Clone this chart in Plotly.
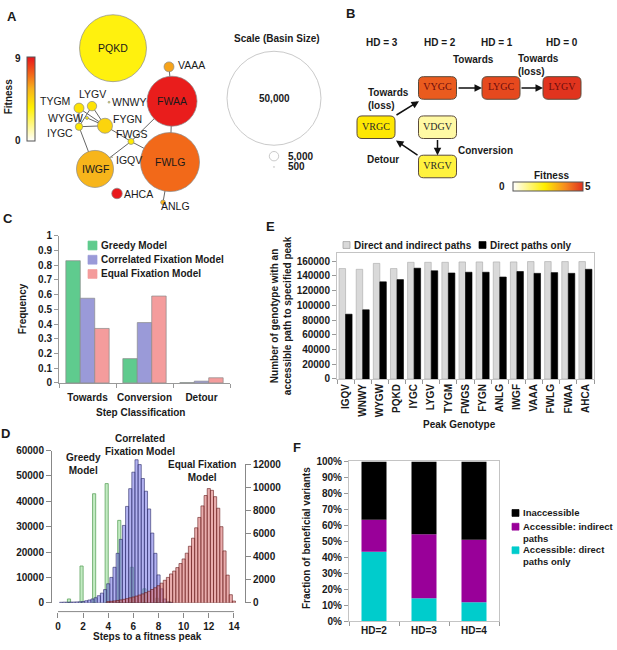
import plotly.graph_objects as go
from plotly.colors import sample_colorscale

W, H = 617, 650
def px(x): return x / W
def py(y): return 1 - y / H

FONT = "Liberation Sans, Arial, sans-serif"
TXT = "#1a1a1a"

# ---------------- Panel A data (fitness network) ----------------
node_names = ["PQKD", "VAAA", "FWAA", "FWLG", "IWGF", "AHCA", "ANLG", "TYGM",
              "LYGV", "WYGW", "IYGC", "FYGN", "WNWY", "FWGS", "IGQV"]
node_fitness = [3.4, 5.9, 8.8, 7.1, 5.5, 8.9, 5.4, 4.0, 4.0, 3.6, 3.8, 4.5, 2.5, 3.8, 3.5]
node_basin = [35600, 5300, 26600, 31400, 19700, 5600, 2500, 5300,
              5000, 1600, 3900, 8000, 1000, 3200, 500]
node_x = [113, 169, 172, 170, 95, 117, 163, 79, 92, 87, 79, 105, 109, 131, 112]
node_y = [43, 62, 97, 159, 166, 191, 200, 104, 102, 114, 123, 122, 98, 138, 154]
edges = [("VAAA", "FWAA"), ("FWAA", "FWLG"), ("FWAA", "FWGS"), ("FWGS", "FWLG"),
         ("FWGS", "IWGF"), ("FYGN", "FWGS"), ("IYGC", "IWGF"), ("FWLG", "ANLG"),
         ("TYGM", "FYGN"), ("LYGV", "FYGN"), ("IYGC", "FYGN"), ("LYGV", "IYGC"),
         ("TYGM", "IYGC"), ("WYGW", "FYGN")]
scale_basin = [50000, 5000, 500]
scale_labels = ["50,000", "5,000", "500"]

# ---------------- Panel B data ----------------
b_names = ["VYGC", "LYGC", "LYGV", "VRGC", "VDGV", "VRGV"]
b_fitness = [4.4, 4.65, 4.95, 2.35, 0.8, 1.7]
hd_labels = ["HD = 3", "HD = 2", "HD = 1", "HD = 0"]

# ---------------- Panel C data ----------------
step_classes = ["Towards", "Conversion", "Detour"]
greedy_freq = [0.83, 0.165, 0.002]
correlated_freq = [0.575, 0.41, 0.012]
equal_freq = [0.37, 0.59, 0.035]

# ---------------- Panel D data ----------------
greedy_steps = [1, 2, 3, 4, 5, 6, 7, 8, 9]
greedy_counts = [1500, 14500, 43000, 47000, 32500, 14000, 5500, 1800, 400]
corr_steps = [0.25, 0.5, 0.75, 1.0, 1.25, 1.5, 1.75, 2.0, 2.25, 2.5, 2.75, 3.0, 3.25,
              3.5, 3.75, 4.0, 4.25, 4.5, 4.75, 5.0, 5.25, 5.5, 5.75, 6.0, 6.25, 6.5,
              6.75, 7.0, 7.25, 7.5, 7.75, 8.0, 8.25, 8.5, 8.75, 9.0]
corr_counts = [200, 250, 250, 300, 300, 350, 400, 500, 800, 1100, 1500, 2000, 2800,
               3800, 5200, 7500, 10000, 14000, 19500, 25000, 30500, 38000, 45000,
               51500, 56400, 54500, 49000, 44000, 37000, 27500, 19500, 11000, 5500,
               1500, 400, 150]
equal_steps = [4.0, 4.25, 4.5, 4.75, 5.0, 5.25, 5.5, 5.75, 6.0, 6.25, 6.5, 6.75, 7.0,
               7.25, 7.5, 7.75, 8.0, 8.25, 8.5, 8.75, 9.0, 9.25, 9.5, 9.75, 10.0,
               10.25, 10.5, 10.75, 11.0, 11.25, 11.5, 11.75, 12.0, 12.25, 12.5,
               12.75, 13.0, 13.25, 13.5, 13.75, 14.0]
equal_counts = [100, 130, 160, 200, 250, 300, 360, 430, 500, 580, 670, 770, 880, 1000,
                1150, 1300, 1480, 1700, 1950, 2200, 2500, 2750, 3050, 3400, 3800,
                4300, 4900, 5600, 6500, 7400, 8400, 9300, 9900, 9750, 9200, 8200,
                6600, 4500, 2400, 700, 150]

# ---------------- Panel E data ----------------
peaks = ["IGQV", "WNWY", "WYGW", "PQKD", "IYGC", "LYGV", "TYGM", "FWGS", "FYGN",
         "ANLG", "IWGF", "VAAA", "FWLG", "FWAA", "AHCA"]
both_paths = [150000, 149000, 157000, 150000, 158500, 158500, 158500, 159000,
              159000, 159000, 159000, 159500, 159500, 159500, 159500]
direct_only = [88000, 94000, 132000, 135000, 150500, 147000, 144000, 145000,
               145000, 138500, 146000, 143500, 144500, 143500, 149000]

# ---------------- Panel F data ----------------
hd_groups = ["HD=2", "HD=3", "HD=4"]
acc_direct = [43.5, 14.5, 12.0]
acc_indirect = [20.0, 40.0, 39.0]
inaccessible = [36.5, 45.5, 49.0]

# ---------------- colours ----------------
CS_A = [[0, "#FFFFFF"], [0.4, "#FFF000"], [0.62, "#F7B21C"], [0.8, "#F26419"], [1, "#E8141C"]]
CS_B = [[0, "#FFFFFF"], [0.45, "#FFEE00"], [0.75, "#F58A1F"], [1, "#E0301E"]]
C_GREEN, C_PURP, C_PINK = "#5FCB8E", "#9A9AD8", "#F49C9C"

fig = go.Figure()
SIZEREF = 50000 / 94.0

# ---- Panel A: edges
pos = {n: (x, y) for n, x, y in zip(node_names, node_x, node_y)}
ex, ey = [], []
for a, b in edges:
    ex += [pos[a][0], pos[b][0], None]
    ey += [pos[a][1], pos[b][1], None]
fig.add_trace(go.Scatter(x=ex, y=ey, mode="lines", xaxis="x", yaxis="y",
                         line=dict(color="#666666", width=1), hoverinfo="skip"))
fig.add_trace(go.Scatter(
    x=node_x, y=node_y, mode="markers", xaxis="x", yaxis="y", hoverinfo="skip",
    marker=dict(size=node_basin, sizemode="diameter", sizeref=SIZEREF,
                color=node_fitness, colorscale=CS_A, cmin=0, cmax=9,
                line=dict(color="#8a8a8a", width=0.7), opacity=1,
                showscale=True,
                colorbar=dict(x=px(27), xanchor="left", y=py(95), yanchor="middle",
                              len=84, lenmode="pixels", thickness=8,
                              thicknessmode="pixels", showticklabels=False, ticks="",
                              outlinewidth=1, outlinecolor="#555", xpad=0, ypad=0))))
# scale legend circles
fig.add_trace(go.Scatter(
    x=[274, 274, 274], y=[94, 153, 164], mode="markers", xaxis="x", yaxis="y",
    hoverinfo="skip",
    marker=dict(size=scale_basin, sizemode="diameter", sizeref=SIZEREF,
                color="white", line=dict(color="#b5b5b5", width=1))))

# ---- Panel B: boxes
b_x = [437.5, 501, 562, 376, 437.5, 437.5]
b_y = [83.5, 83.5, 83.5, 123.5, 123.5, 163.5]
box_cols = sample_colorscale(CS_B, [f / 5 for f in b_fitness])
def rrect(cx, cy, w=38, h=23, r=5):
    x0, x1, y0, y1 = cx - w / 2, cx + w / 2, cy - h / 2, cy + h / 2
    return (f"M {x0+r},{y0} L {x1-r},{y0} Q {x1},{y0} {x1},{y0+r} L {x1},{y1-r} "
            f"Q {x1},{y1} {x1-r},{y1} L {x0+r},{y1} Q {x0},{y1} {x0},{y1-r} "
            f"L {x0},{y0+r} Q {x0},{y0} {x0+r},{y0} Z")
for cx, cy, col in zip(b_x, b_y, box_cols):
    fig.add_shape(type="path", path=rrect(cx, cy), xref="x2", yref="y2", layer="below",
                  fillcolor=col, line=dict(color="#5a4a3a", width=1))
text_cols = ["#6b0d0d" if f > 4 else "#2a2a2a" for f in b_fitness]
fig.add_trace(go.Scatter(
    x=b_x, y=b_y, mode="markers+text", xaxis="x2", yaxis="y2", text=b_names,
    textposition="middle center", hoverinfo="skip",
    textfont=dict(family="Liberation Serif, Times New Roman, serif", size=10,
                  color=text_cols),
    marker=dict(size=1, opacity=0, color=b_fitness, colorscale=CS_B, cmin=0, cmax=5,
                showscale=True,
                colorbar=dict(orientation="h", x=px(548), xanchor="center",
                              y=py(184), yanchor="middle", len=70, lenmode="pixels",
                              thickness=9, thicknessmode="pixels",
                              showticklabels=False, ticks="", outlinewidth=1,
                              outlinecolor="#555", xpad=0, ypad=0))))
arrows = [((457, 83.5), (482, 83.5)), ((520, 83.5), (543, 83.5)),
          ((395, 112), (419, 97)), ((437.5, 135), (437.5, 152)),
          ((419, 153), (396, 137))]
for (tx, ty), (hx, hy) in arrows:
    fig.add_annotation(x=hx, y=hy, ax=tx, ay=ty, xref="x2", yref="y2", axref="x2",
                       ayref="y2", text="", showarrow=True, arrowhead=2,
                       arrowsize=1, arrowwidth=1.5, arrowcolor="#111")

# ---- Panel C bars
for name, vals, col in [("Greedy Model", greedy_freq, C_GREEN),
                        ("Correlated Fixation Model", correlated_freq, C_PURP),
                        ("Equal Fixation Model", equal_freq, C_PINK)]:
    fig.add_trace(go.Bar(x=step_classes, y=vals, name=name, xaxis="x3", yaxis="y3",
                         marker=dict(color=col, line=dict(color="#8a8a8a", width=0.7))))

# ---- Panel D histograms
fig.add_trace(go.Bar(x=greedy_steps, y=greedy_counts, width=0.25, offset=-0.25,
                     xaxis="x5", yaxis="y5",
                     marker=dict(color="rgba(175,228,175,0.75)",
                                 line=dict(color="rgb(95,165,95)", width=0.8))))
fig.add_trace(go.Bar(x=corr_steps, y=corr_counts, width=0.25, offset=-0.125,
                     xaxis="x5", yaxis="y5",
                     marker=dict(color="rgba(115,115,230,0.55)",
                                 line=dict(color="rgb(40,40,100)", width=0.6))))
fig.add_trace(go.Bar(x=equal_steps, y=equal_counts, width=0.25, offset=-0.125,
                     xaxis="x5", yaxis="y6",
                     marker=dict(color="rgba(215,105,105,0.55)",
                                 line=dict(color="rgb(100,25,25)", width=0.6))))

# ---- Panel E bars
fig.add_trace(go.Bar(x=peaks, y=both_paths, xaxis="x4", yaxis="y4",
                     marker=dict(color="#D9D9D9", line=dict(color="#a8a8a8", width=0.6))))
fig.add_trace(go.Bar(x=peaks, y=direct_only, xaxis="x4", yaxis="y4",
                     marker=dict(color="#000000", line=dict(color="#000", width=0.6))))

# ---- Panel F stacked bars
base2 = acc_direct
base3 = [a + b for a, b in zip(acc_direct, acc_indirect)]
for vals, base, col in [(acc_direct, [0, 0, 0], "#00CCCC"),
                        (acc_indirect, base2, "#990099"),
                        (inaccessible, base3, "#000000")]:
    fig.add_trace(go.Bar(x=hd_groups, y=vals, base=base, width=0.5, offset=-0.25,
                         xaxis="x6", yaxis="y7", marker=dict(color=col, line=dict(width=0))))

tf = dict(family=FONT, size=10, color=TXT, weight="bold")
AX = dict(showgrid=False, zeroline=False, tickfont=tf)
fig.update_layout(
    width=W, height=H, margin=dict(l=0, r=0, t=0, b=0), showlegend=False,
    paper_bgcolor="white", plot_bgcolor="rgba(0,0,0,0)",
    barmode="group", bargap=0.24, bargroupgap=0,
    font=dict(family=FONT, color=TXT),
    xaxis=dict(domain=[0, px(330)], range=[0, 330], visible=False, anchor="y"),
    yaxis=dict(domain=[py(215), 1], range=[215, 0], visible=False, anchor="x"),
    xaxis2=dict(domain=[px(330), 1], range=[330, 617], visible=False, anchor="y2"),
    yaxis2=dict(domain=[py(200), 1], range=[200, 0], visible=False, anchor="x2"),
    xaxis3=dict(AX, domain=[px(59), px(230)], anchor="y3", type="category",
                range=[-0.5, 2.5], showline=True, linecolor="#999", ticks="outside",
                tickson="boundaries", ticklen=4, tickcolor="#999", tickangle=0,
                ticklabelstandoff=5),
    yaxis3=dict(AX, domain=[py(384), py(234)], anchor="x3", range=[0, 1],
                tickvals=[i / 10 for i in range(11)],
                ticktext=["0", "0.1", "0.2", "0.3", "0.4", "0.5", "0.6", "0.7", "0.8", "0.9", "1"],
                showline=True, linecolor="#999", ticks="outside", ticklen=4, tickcolor="#999"),
    xaxis4=dict(AX, domain=[px(337), px(594)], anchor="y4", type="category",
                range=[-0.5, 14.5], tickangle=-90, showline=True, mirror=True,
                linecolor="#c4c4c4", ticks="outside", tickson="boundaries", ticklen=4,
                tickcolor="#999"),
    yaxis4=dict(AX, domain=[py(380), py(252)], anchor="x4", range=[0, 170667],
                tickvals=list(range(0, 160001, 20000)), tickformat="d", showline=True,
                mirror=True, linecolor="#c4c4c4", ticks="outside", ticklen=4,
                tickcolor="#999"),
    xaxis5=dict(AX, domain=[px(52), px(245)], anchor="free", position=py(617),
                range=[-0.477, 14.88], tickvals=list(range(0, 15, 2)), showline=False,
                ticks="outside", ticklen=5, tickcolor="#888"),
    yaxis5=dict(AX, domain=[py(608), py(453)], anchor="x5", range=[0, 60000],
                tickvals=list(range(0, 60001, 10000)), tickformat="d", showline=True,
                linecolor="#888", ticks="outside", ticklen=5, tickcolor="#888"),
    yaxis6=dict(AX, domain=[py(608), py(467)], anchor="x5", side="right",
                range=[0, 12000], tickvals=list(range(0, 12001, 2000)), tickformat="d",
                showline=True, linecolor="#888", ticks="outside", ticklen=5,
                tickcolor="#888"),
    xaxis6=dict(AX, domain=[px(349), px(499)], anchor="y7", type="category",
                range=[-0.5, 2.5], showline=True, mirror=True, linecolor="#c4c4c4",
                ticks="outside", tickson="boundaries", ticklen=4, tickcolor="#999"),
    yaxis7=dict(AX, domain=[py(627), py(464)], anchor="x6", range=[0, 100],
                tickvals=list(range(0, 101, 10)),
                ticktext=[f"{v}%" for v in range(0, 101, 10)], showline=True,
                mirror=True, linecolor="#c4c4c4", ticks="outside", ticklen=4,
                tickcolor="#999"),
)
fig.add_shape(type="line", xref="x5", yref="paper", x0=0, x1=14, y0=py(617),
              y1=py(617), line=dict(color="#888", width=1))

def ann(text, x, y, size=10, bold=True, xa="center", ya="middle", angle=0,
        color=TXT, family=FONT):
    fig.add_annotation(text=text, x=px(x), y=py(y), xref="paper", yref="paper",
                       showarrow=False, xanchor=xa, yanchor=ya, textangle=angle,
                       borderpad=0, align=xa if xa in ("left", "right") else "center",
                       font=dict(family=family, size=size, color=color,
                                 weight="bold" if bold else "normal"))

def rect(x0, y0, x1, y1, col, lc=None):
    fig.add_shape(type="rect", xref="paper", yref="paper", x0=px(x0), x1=px(x1),
                  y0=py(y0), y1=py(y1), fillcolor=col,
                  line=dict(color=lc or col, width=0.7))

# panel letters
for letter, x, y in [("A", 12, 11), ("B", 350, 8), ("C", 8, 216), ("D", 5, 436),
                     ("E", 270, 225), ("F", 297, 450)]:
    ann(letter, x, y, size=13)

# Panel A labels
ann("Fitness", 8, 93, angle=-90)
ann("9", 18, 53)
ann("0", 18, 137)
inside = {"PQKD": (113, 43), "FWAA": (172, 97), "FWLG": (170, 159), "IWGF": (95, 166)}
for n, (x, y) in inside.items():
    ann(n, x, y, size=10.5, bold=False)
outside = {"VAAA": (177, 60, "left"), "WNWY": (111, 98, "left"), "TYGM": (71, 97, "right"),
           "LYGV": (92, 90, "center"), "WYGW": (84, 114, "right"),
           "IYGC": (74, 129, "right"), "FYGN": (112, 115, "left"),
           "FWGS": (115, 130, "left"), "IGQV": (115, 157, "left"),
           "AHCA": (123, 192, "left"), "ANLG": (175, 204, "center")}
for n, (x, y, xa) in outside.items():
    ann(n, x, y, size=10.5, bold=False, xa=xa)
ann("Scale (Basin Size)", 277, 33)
ann(scale_labels[0], 274, 94)
ann(scale_labels[1], 287, 153, xa="left")
ann(scale_labels[2], 287, 164, xa="left")

# Panel B labels
for lab, x in zip(hd_labels, [382, 440, 497, 562]):
    ann(lab, x, 37)
ann("Towards", 473, 54)
ann("Towards<br>(loss)", 517, 60, xa="left")
ann("Towards<br>(loss)", 367, 95, xa="left")
ann("Conversion", 457, 147, xa="left")
ann("Detour", 366, 156, xa="left")
ann("Fitness", 551, 173)
ann("0", 502, 184)
ann("5", 588, 184)

# Panel C legend and titles
for i, (name, col) in enumerate([("Greedy Model", C_GREEN),
                                 ("Correlated Fixation Model", C_PURP),
                                 ("Equal Fixation Model", C_PINK)]):
    yc = 244 + i * 14.5
    rect(88, yc - 4.5, 97, yc + 4.5, col)
    ann(name, 100, yc, xa="left")
ann("Frequency", 22, 309, angle=-90)
ann("Step Classification", 140, 414)

# Panel D titles
ann("Greedy<br>Model", 84, 467)
ann("Correlated<br>Fixation Model", 140, 447)
ann("Equal Fixation<br>Model", 202, 474)
ann("Steps to a fitness peak", 147, 642)

# Panel E legend and titles
rect(343, 240, 350, 247, "#D9D9D9", "#999")
ann("Direct and indirect paths", 353, 243.5, xa="left")
rect(479, 240, 486, 247, "#000000")
ann("Direct paths only", 489, 243.5, xa="left")
ann("Number of genotype with an<br>accessible path to specified peak", 281, 316, angle=-90)
ann("Peak Genotype", 459, 426)

# Panel F legend and titles
LF = 9.5
rect(512, 513, 519, 520, "#000000")
ann("Inaccessible", 522, 516.5, size=LF, xa="left")
rect(512, 527, 519, 534, "#990099")
ann("Accessible: indirect<br>paths", 522, 536, size=LF, xa="left", ya="middle")
rect(512, 551, 519, 558, "#00CCCC")
ann("Accessible: direct<br>paths only", 522, 560, size=LF, xa="left", ya="middle")
ann("Fraction of beneficial variants", 307, 542, angle=-90)

fig.write_html("out.html", config={"displayModeBar": False},
               post_script="document.body.style.margin='0px';"
                           "document.body.style.padding='0px';")
